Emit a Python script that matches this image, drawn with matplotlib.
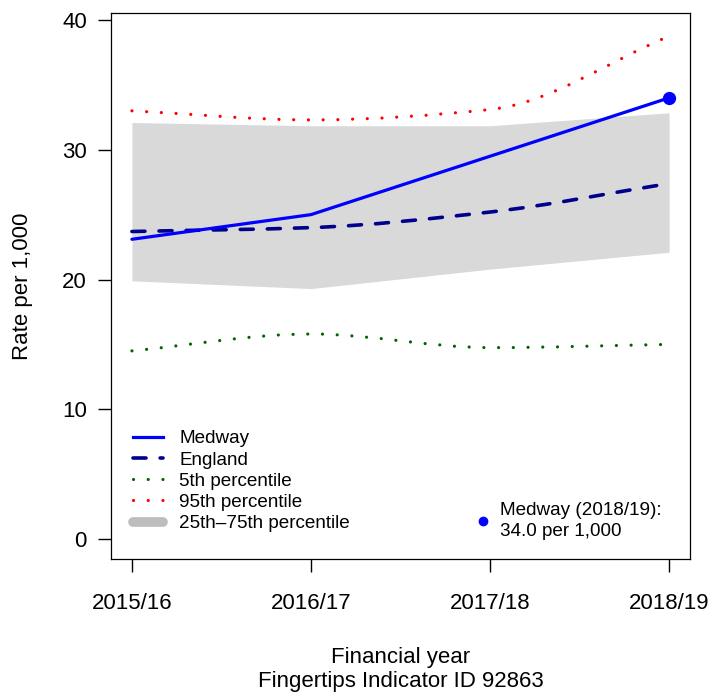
import numpy as np
import matplotlib
matplotlib.use("Agg")
import matplotlib.pyplot as plt
from matplotlib.path import Path
from matplotlib.patches import PathPatch
from matplotlib.lines import Line2D

plt.rcParams['font.family'] = ['Liberation Sans', 'DejaVu Sans']

# Fingertips indicator 92863, rate per 1,000
years = ["2015/16", "2016/17", "2017/18", "2018/19"]
medway = [23.1, 25.0, 29.5, 34.0]
england = [23.7, 24.0, 25.2, 27.4]
pct5 = [14.5, 15.8, 14.75, 15.0]
pct95 = [33.0, 32.3, 33.1, 38.75]
pct25 = [19.9, 19.3, 20.8, 22.1]
pct75 = [32.1, 31.85, 31.85, 32.85]
latest_label = "Medway (2018/19):\n34.0 per 1,000"


def hermite_slopes(x, y):
    # monotone (Fritsch-Carlson) tangents, secant slope at the ends
    x = np.asarray(x, float)
    y = np.asarray(y, float)
    h = np.diff(x)
    delta = np.diff(y) / h
    n = len(x)
    d = np.zeros(n)
    for k in range(1, n - 1):
        if delta[k - 1] * delta[k] > 0:
            w1 = 2 * h[k] + h[k - 1]
            w2 = h[k] + 2 * h[k - 1]
            d[k] = (w1 + w2) / (w1 / delta[k - 1] + w2 / delta[k])
    d[0] = delta[0]
    d[-1] = delta[-1]
    return d


def smooth_path(x, y):
    # cubic Bezier segments through the data points
    d = hermite_slopes(x, y)
    verts = [(x[0], y[0])]
    codes = [Path.MOVETO]
    for i in range(len(x) - 1):
        h = x[i + 1] - x[i]
        verts += [(x[i] + h / 3, y[i] + d[i] * h / 3),
                  (x[i + 1] - h / 3, y[i + 1] - d[i + 1] * h / 3),
                  (x[i + 1], y[i + 1])]
        codes += [Path.CURVE4] * 3
    return Path(verts, codes)


xs = np.arange(len(years))

fig = plt.figure(figsize=(7.11, 6.95), dpi=100)
ax = fig.add_axes([0.1561, 0.1957, 0.8144, 0.7856])

ax.fill_between(xs, pct25, pct75, color="#D9D9D9", lw=0, zorder=1)

dotted = (0, (0.01, 4.6))
dashed = (0, (3.6, 3.9))
ax.add_patch(PathPatch(smooth_path(xs, pct5), fill=False, edgecolor="#006400",
                       lw=2.3, linestyle=dotted, capstyle="round", zorder=2))
ax.add_patch(PathPatch(smooth_path(xs, pct95), fill=False, edgecolor="red",
                       lw=2.3, linestyle=dotted, capstyle="round", zorder=2))
ax.add_patch(PathPatch(smooth_path(xs, england), fill=False, edgecolor="#00008B",
                       lw=2.6, linestyle=dashed, capstyle="round", zorder=3))
ax.plot(xs, medway, color="#0000FF", lw=2.3, solid_capstyle="round", zorder=4)
ax.plot(xs[-1], medway[-1], "o", color="#0000FF", ms=8.5, zorder=5)

ax.set_xlim(-0.117, 3.117)
ax.set_ylim(-1.54, 40.54)
ax.set_xticks(xs)
ax.set_xticklabels(years)
ax.set_yticks([0, 10, 20, 30, 40])
ax.tick_params(axis="both", direction="out", length=9.4, width=1.0,
               labelsize=16, color="black")
ax.tick_params(axis="x", pad=15)
ax.tick_params(axis="y", pad=8)
for s in ax.spines.values():
    s.set_linewidth(0.9)

ax.set_ylabel("Rate per 1,000", fontsize=16, labelpad=21)
ax.set_xlabel("Financial year\nFingertips Indicator ID 92863", fontsize=16,
              labelpad=24)

handles = [
    Line2D([], [], color="#0000FF", lw=2.3),
    Line2D([], [], color="#00008B", lw=2.6, linestyle=dashed,
           dash_capstyle="round"),
    Line2D([], [], color="#006400", lw=2.3, linestyle=dotted,
           dash_capstyle="round"),
    Line2D([], [], color="red", lw=2.3, linestyle=dotted,
           dash_capstyle="round"),
    Line2D([], [], color="#BEBEBE", lw=7, solid_capstyle="round"),
]
labels = ["Medway", "England", "5th percentile", "95th percentile",
          "25th\u201375th percentile"]
leg = ax.legend(handles, labels, loc="upper left",
                bbox_to_anchor=(0.038, 0.236), frameon=False, fontsize=13.6,
                handlelength=1.6, handletextpad=0.85, labelspacing=0.21,
                borderpad=0, borderaxespad=0)
ax.add_artist(leg)

leg2 = ax.legend([Line2D([], [], marker="o", color="#0000FF", ls="none", ms=6)],
                 [latest_label], loc="upper left",
                 bbox_to_anchor=(0.6295, 0.104), frameon=False, fontsize=13.6,
                 handlelength=0.8, handletextpad=0.5, borderpad=0,
                 borderaxespad=0)
leg2.get_texts()[0].set_linespacing(1.3)

fig.savefig("out.png", dpi=100)
